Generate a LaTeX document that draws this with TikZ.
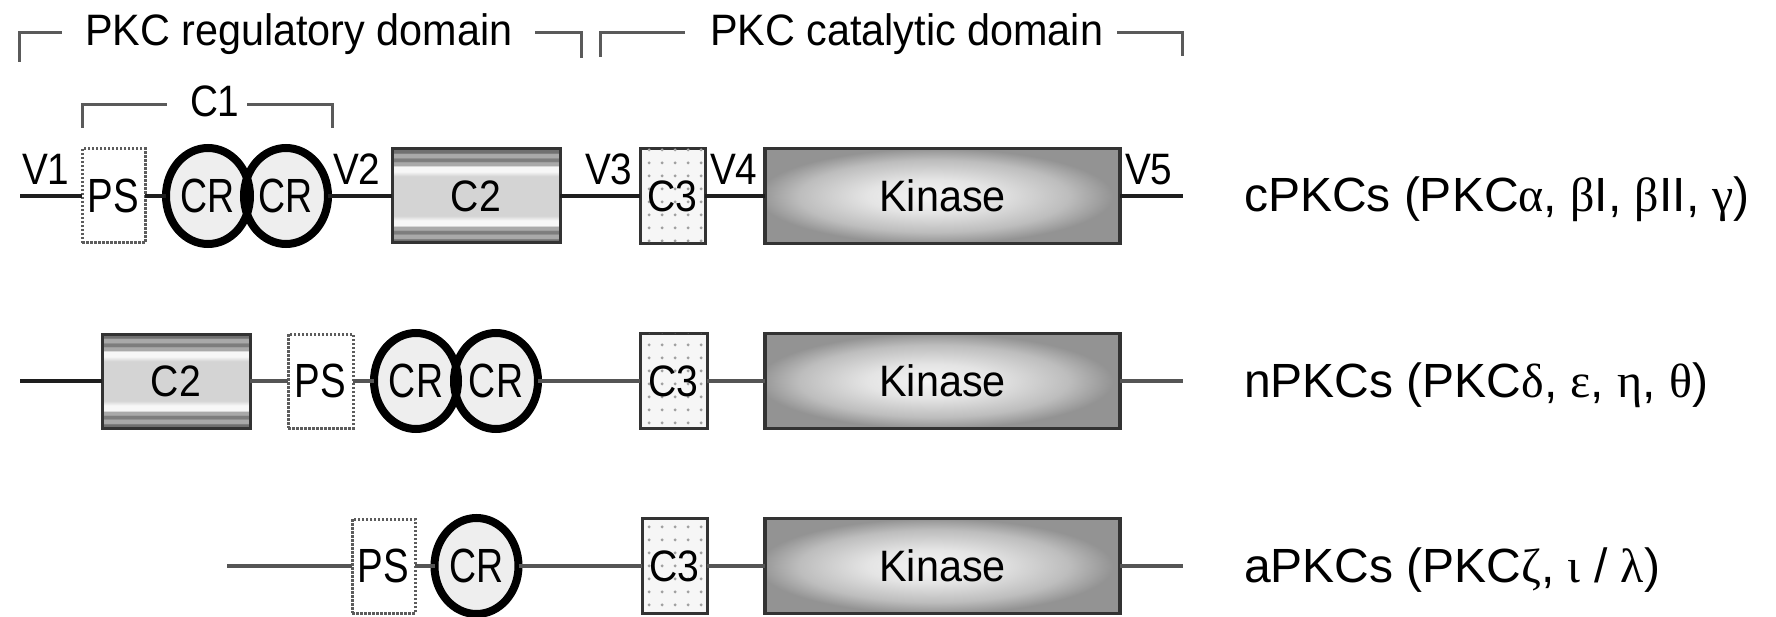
\documentclass[tikz,border=0pt]{standalone}
\usepackage{fontspec}
\setmainfont{Liberation Sans}
\newfontfamily\grk{Liberation Serif}
\usepackage{graphicx}
\usetikzlibrary{shapes.geometric,patterns.meta}

\definecolor{lnk}{HTML}{1E1E1E}
\definecolor{lnkg}{HTML}{555555}
\definecolor{brk}{HTML}{5A5A5A}
\definecolor{psb}{HTML}{5C5C5C}
\definecolor{crf}{HTML}{EEEEEE}
\definecolor{boxb}{HTML}{333333}
\definecolor{c3f}{HTML}{F6F6F6}
\definecolor{c3d}{HTML}{A0A0A0}
\definecolor{bandA}{HTML}{707070}
\definecolor{bandB}{HTML}{A9A9A9}
\definecolor{bandC}{HTML}{7D7D7D}
\definecolor{wht}{HTML}{F7F7F7}
\definecolor{midg}{HTML}{D4D4D4}
\definecolor{kinA}{HTML}{F4F4F4}
\definecolor{kinB}{HTML}{E4E4E4}
\definecolor{kinC}{HTML}{BDBDBD}
\definecolor{kinD}{HTML}{939393}

\pgfdeclareverticalshading{ctwoshade}{100bp}{color(0bp)=(bandA); color(25bp)=(bandA); color(27bp)=(bandA); color(27.5bp)=(bandB); color(29.5bp)=(bandB); color(30bp)=(bandC); color(31.5bp)=(bandC); color(32bp)=(bandB); color(33.8bp)=(bandB); color(34.2bp)=(wht); color(37bp)=(wht); color(39.5bp)=(midg); color(60.5bp)=(midg); color(63bp)=(wht); color(65.8bp)=(wht); color(66.2bp)=(bandB); color(68bp)=(bandB); color(68.5bp)=(bandC); color(70bp)=(bandC); color(70.5bp)=(bandB); color(72.5bp)=(bandB); color(73bp)=(bandA); color(75bp)=(bandA); color(100bp)=(bandA)}
\pgfdeclareradialshading{kinshade}{\pgfpoint{-2bp}{0bp}}{color(0bp)=(kinA); color(9bp)=(kinB); color(19bp)=(kinC); color(25bp)=(kinD); color(50bp)=(kinD)}

\newcommand{\ttlfont}{\fontsize{44}{50}\selectfont}
\newcommand{\lblfont}{\fontsize{44}{50}\selectfont}
\newcommand{\inbfont}{\fontsize{48}{54}\selectfont}
\newcommand{\famfont}{\fontsize{48}{54}\selectfont}
\newcommand{\narrow}[2]{\scalebox{#1}[1]{#2}}

\begin{document}
\begin{tikzpicture}[x=1pt,y=-1pt,
  every node/.style={inner sep=0pt, outer sep=0pt},
  conn/.style={draw=lnk, line width=4pt},
  conng/.style={draw=lnkg, line width=4pt},
  brack/.style={draw=brk, line width=3pt},
  psbox/.style={rectangle, draw=psb, line width=3pt, dash pattern=on 2.5pt off 1.5pt, fill=white, minimum width=63pt, minimum height=94pt, font=\inbfont},
  crnode/.style={ellipse, fill=crf, minimum width=84pt, minimum height=96pt, font=\inbfont},
  ring/.style={draw=black, line width=8pt},
  ctwo/.style={rectangle, draw=boxb, line width=3pt, shade, shading=ctwoshade, minimum height=94pt, font=\lblfont},
  cthree/.style={rectangle, draw=boxb, line width=3pt, fill=c3f, postaction={pattern={Dots[distance=13pt,radius=1.7pt]}, pattern color=c3d}, minimum width=65pt, minimum height=95pt, font=\lblfont},
  kin/.style={rectangle, draw=boxb, line width=3.5pt, shade, shading=kinshade, minimum width=355pt, minimum height=95pt, font=\lblfont},
  vlab/.style={anchor=base west, font=\lblfont},
  ttl/.style={anchor=base west, font=\ttlfont},
  fam/.style={anchor=base west, font=\famfont},
  ]
\fill[white] (0,0) rectangle (1776,617);
\useasboundingbox (0,0) rectangle (1776,617);

% domain titles and brackets
\node[ttl] (tReg) at (85,46) {\narrow{0.94}{PKC regulatory domain}};
\node[ttl] (tCat) at (710,46) {\narrow{0.94}{PKC catalytic domain}};
\node[ttl] (tC1) at (190,117) {\narrow{0.88}{C1}};
\draw[brack] (19,62) -- (19,33) -- (62,33);
\draw[brack] (535,33) -- (581,33) -- (581,58);
\draw[brack] (600,57) -- (600,33) -- (685,33);
\draw[brack] (1117,33) -- (1182,33) -- (1182,56);
\draw[brack] (82,128) -- (82,105) -- (167,105);
\draw[brack] (247,105) -- (332,105) -- (332,128);

% ---------- row 1 : cPKCs ----------
\coordinate (r1s) at (20,196);
\coordinate (r1e) at (1183,196);
\node[psbox] (ps1) at (113.5,196) {\narrow{0.8}{PS}};
\node[crnode] (cr1a) at (208,196) {\narrow{0.78}{CR}};
\node[crnode] (cr1b) at (286,196) {\narrow{0.78}{CR}};
\draw[ring] (cr1a.center) ellipse [x radius=42, y radius=48];
\draw[ring] (cr1b.center) ellipse [x radius=42, y radius=48];
\node[ctwo, minimum width=168pt] (c21) at (476,196) {\narrow{0.89}{C2}};
\node[cthree] (c31) at (672.5,196) {\narrow{0.89}{C3}};
\node[kin] (k1) at (942.5,196) {\narrow{0.94}{Kinase}};
\draw[conn] (r1s) -- (ps1.west);
\draw[conn] (ps1.east) -- (cr1a.west);
\draw[conn] (cr1b.east) -- (c21.west);
\draw[conn] (c21.east) -- (c31.west);
\draw[conn] (c31.east) -- (k1.west);
\draw[conn] (k1.east) -- (r1e);
\node[vlab] (v1) at (22,185) {\narrow{0.88}{V1}};
\node[vlab] (v2) at (333,185) {\narrow{0.88}{V2}};
\node[vlab] (v3) at (585,185) {\narrow{0.88}{V3}};
\node[vlab] (v4) at (710,185) {\narrow{0.88}{V4}};
\node[vlab] (v5) at (1125,185) {\narrow{0.88}{V5}};
\node[fam] (f1) at (1244,212) {cPKCs (PKC{\grk α}, {\grk β}I, {\grk β}II, {\grk γ})};

% ---------- row 2 : nPKCs ----------
\coordinate (r2s) at (20,381);
\coordinate (r2e) at (1183,381);
\node[ctwo, minimum width=148pt] (c22) at (176,381) {\narrow{0.89}{C2}};
\node[psbox, minimum width=65pt] (ps2) at (320.5,381) {\narrow{0.8}{PS}};
\node[crnode] (cr2a) at (416,381) {\narrow{0.78}{CR}};
\node[crnode] (cr2b) at (496,381) {\narrow{0.78}{CR}};
\draw[ring] (cr2a.center) ellipse [x radius=42, y radius=48];
\draw[ring] (cr2b.center) ellipse [x radius=42, y radius=48];
\node[cthree, minimum width=67pt] (c32) at (673.5,381) {\narrow{0.89}{C3}};
\node[kin] (k2) at (942.5,381) {\narrow{0.94}{Kinase}};
\draw[conn] (r2s) -- (c22.west);
\draw[conng] (c22.east) -- (ps2.west);
\draw[conng] (ps2.east) -- (cr2a.west);
\draw[conng] (cr2b.east) -- (c32.west);
\draw[conng] (c32.east) -- (k2.west);
\draw[conng] (k2.east) -- (r2e);
\node[fam] (f2) at (1244,397) {nPKCs (PKC{\grk δ}, {\grk ε}, {\grk η}, {\grk θ})};

% ---------- row 3 : aPKCs ----------
\coordinate (r3s) at (227,566);
\coordinate (r3e) at (1183,566);
\node[psbox] (ps3) at (383.5,566) {\narrow{0.8}{PS}};
\node[crnode] (cr3) at (476.5,566) {\narrow{0.78}{CR}};
\draw[ring] (cr3.center) ellipse [x radius=42, y radius=48];
\node[cthree] (c33) at (674.5,566) {\narrow{0.89}{C3}};
\node[kin] (k3) at (942.5,566) {\narrow{0.94}{Kinase}};
\draw[conng] (r3s) -- (ps3.west);
\draw[conng] (ps3.east) -- (cr3.west);
\draw[conng] (cr3.east) -- (c33.west);
\draw[conng] (c33.east) -- (k3.west);
\draw[conng] (k3.east) -- (r3e);
\node[fam] (f3) at (1244,582) {aPKCs (PKC{\grk ζ}, {\grk ι} / {\grk λ})};
\end{tikzpicture}
\end{document}
